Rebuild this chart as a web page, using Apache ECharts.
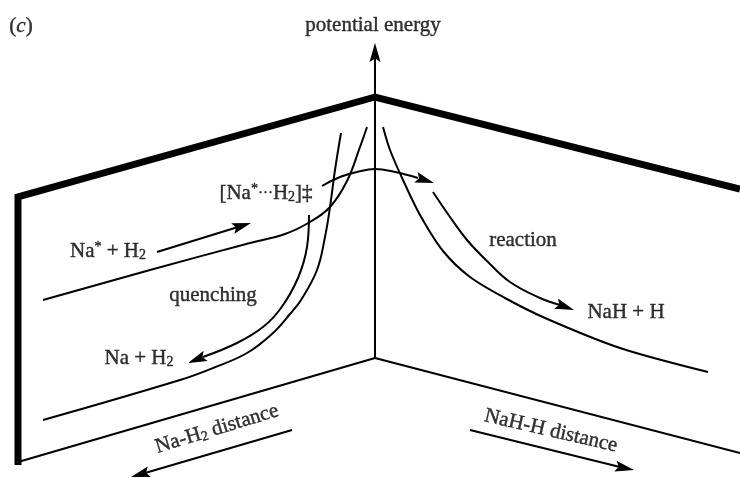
<!DOCTYPE html>
<html><head><meta charset="utf-8">
<script src="https://cdn.jsdelivr.net/npm/echarts/dist/echarts.min.js"></script>
<style>html,body{margin:0;padding:0;background:#fff}#c{width:740px;height:478px}</style>
</head><body><div id="c"></div>
<script>
// ---- geometry (diagram coordinates, y grows downward) ----
const frameThick   = [[18,465],[18,197],[375,97],[740,189]];
const edgeLeft     = [[18,462],[375,358]];
const edgeRight    = [[375,358],[740,453]];
const energyAxis   = [[375,358],[375,58]];
const energyTip    = [375,43];
const upperCurve   = [[43,300],[150,270],[250,243],[285,234],[310,222],[330,207],[347,181],[360,147],[367,127]];
const lowerCurve   = [[43,420],[180,380],[213,368],[247,353],[273,333],[290,314],[301,300],[317,270],[325,237],[330,207],[335,170],[341,133]];
const productCurve = [[383,127],[390,150],[403,180],[420,215],[443,251],[470,277],[505,298],[545,318],[620,348],[708,372]];
const entryArrow   = [[157,252],[238,227]];
const entryTip     = [251,223];
const crossArc     = [[322,186],[340,177],[357,172],[375,169],[395,172],[418,178]];
const crossTip     = [434,183];
const quenchArrow  = [[309,215],[307,247],[298,278],[281,308],[263,327],[237,343],[203,357]];
const quenchTip    = [188,363];
const reactArrow   = [[433,192],[450,217],[467,240],[487,261],[510,282],[540,298],[560,305]];
const reactTip     = [574,310];
const leftDistArrow  = [[292,430],[145,473]];
const leftDistTip    = [131,477];
const rightDistArrow = [[470,430],[620,467]];
const rightDistTip   = [634,470];

// ---- text ----
const labelText   = ['({i|c})','potential energy','[Na{sup|*}{d|···}H{sub|2}]‡','Na{sup|*} + H{sub|2}','quenching','Na + H{sub|2}','reaction','NaH + H','Na-H{sub|2} distance','NaH-H distance'];
const labelPos    = [[21,26],[373,25],[266,193],[108,251],[213,295],[139,358],[523,240],[626,312],[217,429],[551,431]];
const labelRotate = [0,0,0,0,0,0,0,0,17,-13];

const arrowHeads = [
  [energyTip, energyAxis[energyAxis.length-1]],
  [entryTip, entryArrow[entryArrow.length-1]],
  [crossTip, crossArc[crossArc.length-1]],
  [quenchTip, quenchArrow[quenchArrow.length-1]],
  [reactTip, reactArrow[reactArrow.length-1]],
  [leftDistTip, leftDistArrow[leftDistArrow.length-1]],
  [rightDistTip, rightDistArrow[rightDistArrow.length-1]]
].map(p => [p[0][0], p[0][1], p[1][0], p[1][1]]);

function path(data, width, smooth) {
  return {type:'line', data:data, symbol:'none', smooth: smooth ? smooth : false, silent:true,
    clip:false, lineStyle:{color:'#000', width:width, join:'miter', cap:'butt'}};
}

const txt = {fontFamily:'Liberation Serif', color:'#000', textBorderColor:'#000', textBorderWidth:0.4};
const chart = echarts.init(document.getElementById('c'), null, {renderer:'canvas'});
chart.setOption({
  animation:false,
  backgroundColor:'#fff',
  grid:{left:0,right:0,top:0,bottom:0},
  xAxis:{type:'value',min:0,max:740,show:false},
  yAxis:{type:'value',min:0,max:478,inverse:true,show:false},
  series:[
    path(frameThick,7,false),
    path(edgeLeft,2,false),
    path(edgeRight,2,false),
    path(energyAxis,2,false),
    path(upperCurve,2,0.4),
    path(lowerCurve,2,0.4),
    path(productCurve,2,0.3),
    path(entryArrow,2,false),
    path(crossArc,2,0.4),
    path(quenchArrow,2,0.4),
    path(reactArrow,2,0.4),
    path(leftDistArrow,2,false),
    path(rightDistArrow,2,false),
    {
      type:'custom', silent:true, data:arrowHeads,
      renderItem:function(params, api){
        const tip = api.coord([api.value(0), api.value(1)]);
        const ref = api.coord([api.value(2), api.value(3)]);
        let dx = tip[0]-ref[0], dy = tip[1]-ref[1];
        const len = Math.hypot(dx,dy); dx/=len; dy/=len;
        const L = 19, W = 11, nx = -dy, ny = dx;
        const bx = tip[0]-dx*L, by = tip[1]-dy*L;
        return {type:'polygon', shape:{points:[
          tip, [bx+nx*W/2, by+ny*W/2], [tip[0]-dx*L*0.82, tip[1]-dy*L*0.82], [bx-nx*W/2, by-ny*W/2]
        ]}, style:{fill:'#000'}};
      }
    },
    {
      type:'scatter', silent:true, symbolSize:0,
      data: labelText.map((t,i) => ({value:labelPos[i], label:{formatter:() => t, rotate:labelRotate[i]}})),
      label:Object.assign({show:true, position:'inside', align:'center', verticalAlign:'middle',
        fontSize:21, lineHeight:22,
        rich:{
          sub:Object.assign({fontSize:14, lineHeight:8, verticalAlign:'bottom'}, txt),
          sup:Object.assign({fontSize:14, lineHeight:8, verticalAlign:'top'}, txt),
          d:Object.assign({fontSize:15, lineHeight:22}, txt),
          i:Object.assign({fontSize:21, fontStyle:'italic', lineHeight:22}, txt)
        }}, txt)
    }
  ]
});
</script></body></html>
